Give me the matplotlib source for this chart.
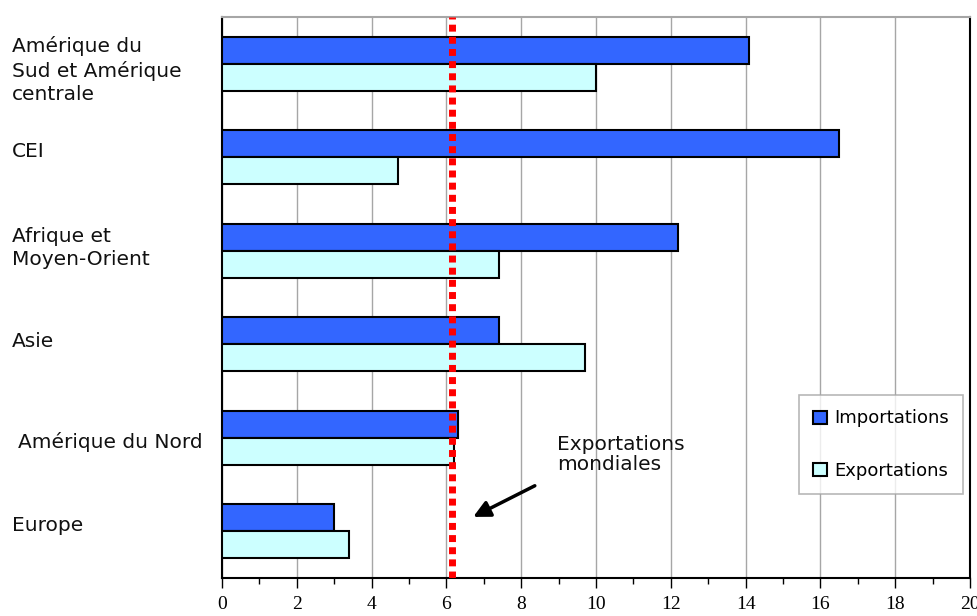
import numpy as np
import matplotlib
matplotlib.use('Agg')
from matplotlib import pyplot as plt
from matplotlib import transforms

regions = ['Amérique du\nSud et Amérique\ncentrale', 'CEI', 'Afrique et\nMoyen-Orient',
           'Asie', 'Amérique du Nord', 'Europe']
importations = [14.1, 16.5, 12.2, 7.4, 6.3, 3.0]
exportations = [10.0, 4.7, 7.4, 9.7, 6.2, 3.4]
export_mondiales = 6.15
xticks = [0, 2, 4, 6, 8, 10, 12, 14, 16, 18, 20]

fig = plt.figure(figsize=(9.78, 6.16), dpi=100)
ax = fig.add_axes([222 / 978, 1 - 578 / 616, 748 / 978, 561 / 616])

y = np.arange(len(regions))
h = 0.289
ax.barh(y - h / 2, importations, height=h, color='#3366FF', edgecolor='black', linewidth=1.5,
        label='Importations', zorder=3)
ax.barh(y + h / 2, exportations, height=h, color='#CCFFFF', edgecolor='black', linewidth=1.5,
        label='Exportations', zorder=3)

# ligne des exportations mondiales
ax.axvline(export_mondiales, color='red', lw=5, linestyle=(0, (1.0, 0.75)), zorder=4)

ax.set_xlim(0, 20)
ax.set_ylim(len(regions) - 0.5, -0.5)
ax.set_xticks(xticks)
ax.set_xticks(np.arange(1, 20, 2), minor=True)
ax.set_xticklabels([str(v) for v in xticks], family='Liberation Serif', fontsize=14)
ax.tick_params(axis='x', which='major', length=7, width=1, direction='out', pad=6)
ax.tick_params(axis='x', which='minor', length=4, width=1, direction='out')
ax.set_yticks([])
ax.grid(axis='x', color='#A6A6A6', lw=1, zorder=0)

for s in ['left', 'bottom', 'right']:
    ax.spines[s].set_linewidth(1.5)
    ax.spines[s].set_color('black')
ax.spines['top'].set_color('#A6A6A6')
ax.spines['top'].set_linewidth(1.5)

# libelles des regions, alignes a gauche
label_dy = [0.07, -0.06, -0.03, -0.03, 0.05, -0.06]
tr = transforms.blended_transform_factory(fig.transFigure, ax.transData)
for i, lab in enumerate(regions):
    x0 = 18 / 978 if lab == 'Amérique du Nord' else 12 / 978
    fig.text(x0, i + label_dy[i], lab, transform=tr, ha='left', va='center', fontsize=14.5,
             family='DejaVu Sans', linespacing=1.3, color='#111111')

ax.annotate('', xy=(6.65, 4.86), xytext=(8.43, 4.5),
            arrowprops=dict(arrowstyle='-|>,head_length=1.0,head_width=0.5', color='black', lw=2.5),
            zorder=5)
ax.text(8.95, 4.18, 'Exportations\nmondiales', ha='left', va='center', fontsize=14.5,
        family='DejaVu Sans', color='#111111', linespacing=1.1, zorder=5)

leg = fig.legend(handles=[ax.containers[0], ax.containers[1]],
                 labels=['Importations', 'Exportations'],
                 loc='upper left', bbox_to_anchor=(799 / 978, 1 - 395 / 616),
                 fontsize=13, frameon=True, fancybox=False, edgecolor='#A6A6A6',
                 handlelength=0.75, handleheight=0.75, labelspacing=1.9, borderpad=0.8,
                 handletextpad=0.4, borderaxespad=0)
leg.get_frame().set_linewidth(1.2)

fig.savefig('out.png', dpi=100)
